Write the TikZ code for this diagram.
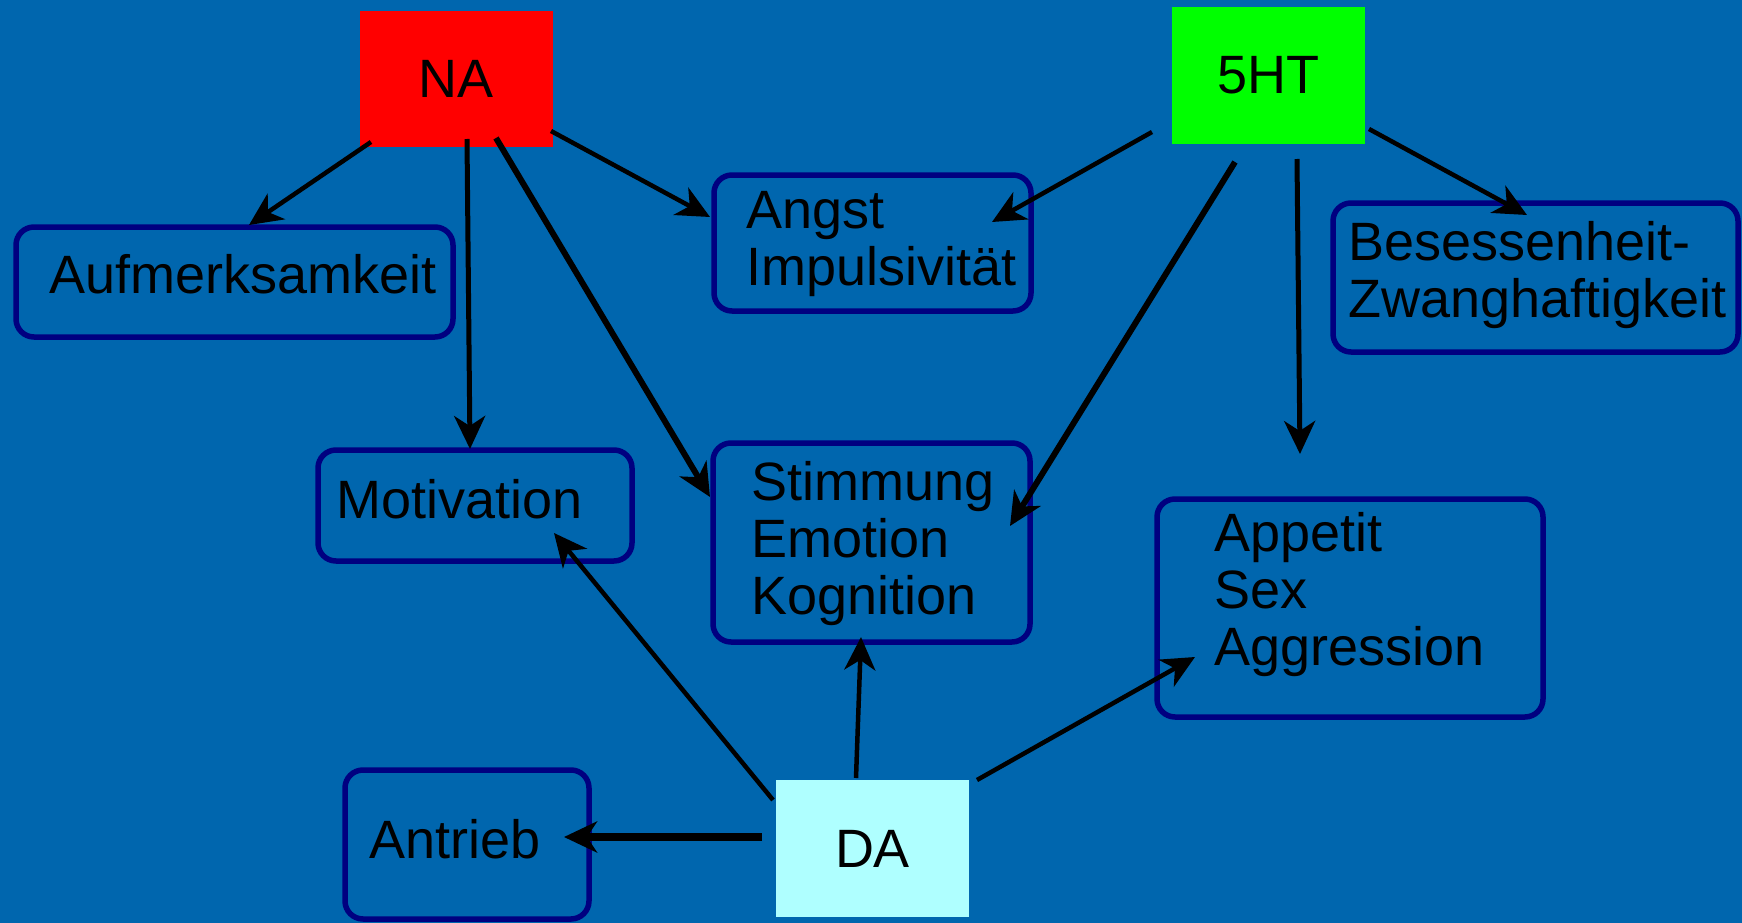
\documentclass[tikz,border=0pt]{standalone}
\usepackage{fontspec}
\setmainfont{Liberation Sans}
\usetikzlibrary{arrows.meta,calc}
\definecolor{bg}{RGB}{0,102,174}
\definecolor{boxline}{RGB}{0,0,128}
\definecolor{nared}{RGB}{255,0,0}
\definecolor{htgreen}{RGB}{0,255,0}
\definecolor{dacyan}{RGB}{175,255,255}
\begin{document}
\begin{tikzpicture}[x=1pt,y=-1pt,
  box/.style={draw=boxline, line width=5.5pt, rounded corners=18pt, inner sep=0pt},
  src/.style={inner sep=0pt, font=\fontsize{54}{57}\selectfont},
  lbl/.style={anchor=base west, inner sep=0pt, text width=420pt, align=left, font=\fontsize{54}{57}\selectfont},
  arr/.style={line width=4.5pt, -{Stealth[length=33pt,width=31pt,inset=10pt]}},
  heavyarr/.style={arr, line width=6pt},
  vertarr/.style={arr, line width=5pt}]
\fill[bg] (0,0) rectangle (1742,923);
\useasboundingbox (0,0) rectangle (1742,923);
% source nodes
\node[src, fill=nared, minimum width=193pt, minimum height=136pt] (NA) at (456.5,79) {NA};
\node[src, fill=htgreen, minimum width=193pt, minimum height=137pt] (HT) at (1268.5,75.5) {5HT};
\node[src, fill=dacyan, minimum width=193pt, minimum height=137pt] (DA) at (872.5,848.5) {DA};
% target boxes
\node[box, minimum width=437pt, minimum height=110pt] (aufm) at (234.5,282) {};
\node[box, minimum width=317pt, minimum height=136pt] (angst) at (872.5,243) {};
\node[box, minimum width=405pt, minimum height=149pt] (bes) at (1535.5,277.5) {};
\node[box, minimum width=314pt, minimum height=111pt] (motiv) at (475,505.5) {};
\node[box, minimum width=317pt, minimum height=199pt] (stimm) at (871.5,542.5) {};
\node[box, minimum width=386pt, minimum height=218pt] (app) at (1350,608) {};
\node[box, minimum width=244pt, minimum height=149pt] (antr) at (467,844.5) {};
% texts
\node[lbl] (aufmT) at (49,293) {Aufmerksamkeit};
\node[lbl] (angstT) at (746,228) {Angst\\Impulsivität};
\node[lbl] (besT) at (1348,260) {Besessenheit-\\Zwanghaftigkeit};
\node[lbl] (motivT) at (336,518) {Motivation};
\node[lbl] (stimmT) at (751,500) {Stimmung\\Emotion\\Kognition};
\node[lbl] (appT) at (1214,551) {Appetit\\Sex\\Aggression};
\node[lbl] (antrT) at (369,858) {Antrieb};
% connectors from NA
\draw[arr] ($(NA)+(-85.5,63)$) -- ($(aufm)+(14.5,-57)$);
\draw[vertarr] ($(NA)+(10.5,60)$) -- ($(motiv)+(-5,-56.5)$);
\draw[heavyarr] ($(NA)+(39.5,59)$) -- ($(stimm)+(-161.5,-45.5)$);
\draw[arr] ($(NA)+(94.5,52)$) -- ($(angst)+(-162.5,-26)$);
% connectors from 5HT
\draw[arr] ($(HT)+(-116.5,56.5)$) -- ($(angst)+(119.5,-21)$);
\draw[heavyarr] ($(HT)+(-33.5,86.5)$) -- ($(stimm)+(138.5,-16.5)$);
\draw[vertarr] ($(HT)+(28.5,83.5)$) -- ($(app)+(-50,-154)$);
\draw[arr] ($(HT)+(100.5,53.5)$) -- ($(bes)+(-8.5,-62.5)$);
% connectors from DA
\draw[arr] ($(DA)+(-99.5,-48.5)$) -- ($(motiv)+(79,27.5)$);
\draw[arr] ($(DA)+(-16.5,-70.5)$) -- ($(stimm)+(-10.5,94.5)$);
\draw[arr, line width=7.5pt] ($(DA)+(-110.5,-11.5)$) -- ($(antr)+(97,-7.5)$);
\draw[arr] ($(DA)+(104.5,-68.5)$) -- ($(app)+(-155,49)$);
\end{tikzpicture}
\end{document}
